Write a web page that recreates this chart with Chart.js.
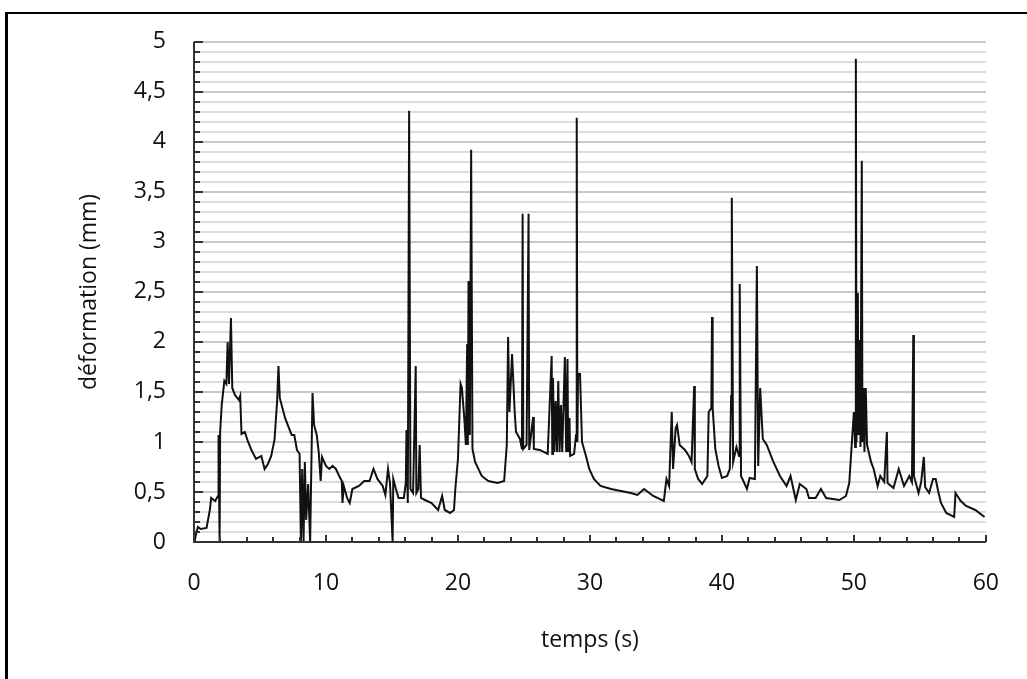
<!DOCTYPE html>
<html>
<head>
<meta charset="utf-8">
<script src="https://cdn.jsdelivr.net/npm/chart.js@4.4.1/dist/chart.umd.min.js"></script>
<style>
    html, body { margin: 0; padding: 0; background: #fff; }
    #wrap { position: relative; width: 1027px; height: 679px; }
    #cadre {
        position: absolute; left: 5px; top: 12px; right: 0; bottom: 0;
        border-top: 2px solid #000; border-left: 3px solid #000;
        pointer-events: none;
    }
</style>
</head>
<body>
<div id="wrap">
    <canvas id="graphique" width="1027" height="679"></canvas>
    <div id="cadre"></div>
</div>
<script>
// temps (s)
const temps = [
    0.0, 0.07, 0.15, 0.3, 0.5, 0.95, 1.2, 1.3, 1.6, 1.82, 1.86, 1.94, 1.98, 2.1, 2.3, 2.45, 2.55, 2.65, 2.8, 2.9,
    3.1, 3.4, 3.5, 3.6, 3.85, 4.1, 4.35, 4.7, 5.1, 5.35, 5.6, 5.85, 6.1, 6.3, 6.4, 6.5, 6.7, 6.9, 7.1, 7.4,
    7.6, 7.8, 8.0, 8.1, 8.2, 8.3, 8.4, 8.5, 8.65, 8.8, 8.98, 9.1, 9.3, 9.45, 9.6, 9.7, 10.0, 10.25, 10.5, 10.75,
    11.0, 11.2, 11.25, 11.35, 11.6, 11.8, 12.0, 12.5, 12.9, 13.3, 13.6, 13.9, 14.3, 14.5, 14.7, 14.85, 15.05, 15.1, 15.3, 15.5,
    15.9, 16.05, 16.1, 16.2, 16.3, 16.4, 16.6, 16.8, 16.85, 17.0, 17.1, 17.2, 17.5, 18.0, 18.5, 18.8, 19.0, 19.4, 19.7, 19.8,
    20.0, 20.2, 20.3, 20.5, 20.6, 20.7, 20.75, 20.8, 20.9, 21.0, 21.1, 21.3, 21.8, 22.3, 23.0, 23.5, 23.7, 23.8, 23.9, 24.1,
    24.3, 24.4, 24.7, 24.85, 24.9, 24.95, 25.2, 25.35, 25.4, 25.7, 25.75, 26.2, 26.8, 27.1, 27.15, 27.2, 27.3, 27.4, 27.5, 27.6,
    27.7, 27.8, 27.9, 28.1, 28.2, 28.3, 28.35, 28.45, 28.5, 28.8, 28.95, 29.0, 29.05, 29.1, 29.25, 29.4, 29.7, 29.95, 30.3, 30.8,
    31.6, 33.1, 33.6, 34.1, 34.3, 34.8, 35.6, 35.8, 36.0, 36.2, 36.3, 36.5, 36.6, 36.8, 37.2, 37.5, 37.7, 37.9, 37.95, 38.2,
    38.5, 38.9, 39.0, 39.2, 39.25, 39.3, 39.5, 39.75, 40.0, 40.4, 40.6, 40.7, 40.75, 40.85, 41.1, 41.3, 41.35, 41.45, 41.9, 42.1,
    42.5, 42.65, 42.75, 42.9, 43.1, 43.4, 43.9, 44.4, 44.9, 45.2, 45.6, 45.9, 46.4, 46.6, 47.1, 47.5, 47.9, 48.9, 49.4, 49.65,
    49.8, 50.0, 50.1, 50.15, 50.2, 50.3, 50.35, 50.45, 50.5, 50.6, 50.65, 50.75, 50.8, 50.9, 51.0, 51.3, 51.5, 51.8, 52.0, 52.3,
    52.5, 52.55, 53.0, 53.4, 53.8, 54.2, 54.4, 54.5, 54.55, 54.9, 55.1, 55.3, 55.4, 55.7, 56.0, 56.2, 56.4, 56.6, 57.0, 57.6,
    57.7, 58.1, 58.5, 59.2, 59.9
];

// déformation (mm)
const deformation = [
    0.0, 0.02, 0.08, 0.15, 0.13, 0.14, 0.32, 0.44, 0.41, 0.46, 1.07, 0.0, 1.1, 1.37, 1.61, 1.58, 2.0, 1.58, 2.24, 1.54,
    1.47, 1.42, 1.46, 1.08, 1.1, 1.0, 0.92, 0.83, 0.86, 0.73, 0.78, 0.86, 1.02, 1.41, 1.76, 1.44, 1.34, 1.24, 1.17, 1.07,
    1.07, 0.92, 0.88, 0.0, 0.73, 0.0, 0.8, 0.22, 0.58, 0.0, 1.49, 1.17, 1.07, 0.9, 0.61, 0.85, 0.76, 0.73, 0.76, 0.73,
    0.66, 0.61, 0.39, 0.56, 0.44, 0.39, 0.53, 0.56, 0.61, 0.61, 0.73, 0.63, 0.56, 0.47, 0.73, 0.59, 0.0, 0.63, 0.53, 0.44,
    0.44, 0.59, 1.12, 0.39, 4.31, 0.53, 0.49, 1.76, 0.49, 0.53, 0.97, 0.44, 0.42, 0.39, 0.32, 0.46, 0.32, 0.29, 0.32, 0.53,
    0.83, 1.58, 1.54, 1.2, 0.97, 1.98, 0.97, 2.61, 1.07, 3.92, 0.93, 0.8, 0.66, 0.61, 0.59, 0.61, 0.97, 2.05, 1.3, 1.88,
    1.3, 1.1, 1.03, 0.93, 3.28, 0.93, 0.97, 3.28, 0.92, 1.25, 0.93, 0.92, 0.88, 1.86, 0.88, 1.64, 0.9, 1.41, 0.9, 1.61,
    0.9, 1.37, 0.9, 1.85, 0.9, 1.83, 0.9, 1.24, 0.86, 0.88, 1.07, 4.24, 1.0, 1.68, 1.68, 1.0, 0.86, 0.73, 0.63, 0.56,
    0.53, 0.49, 0.47, 0.53, 0.51, 0.46, 0.41, 0.63, 0.56, 1.3, 0.73, 1.14, 1.17, 0.97, 0.92, 0.86, 0.8, 1.56, 0.73, 0.63,
    0.58, 0.66, 1.3, 1.34, 2.25, 1.34, 0.93, 0.76, 0.64, 0.66, 0.73, 1.46, 3.44, 0.8, 0.95, 0.86, 2.58, 0.66, 0.53, 0.64,
    0.63, 2.76, 0.76, 1.54, 1.03, 0.97, 0.8, 0.66, 0.56, 0.66, 0.42, 0.58, 0.53, 0.44, 0.44, 0.53, 0.44, 0.42, 0.46, 0.59,
    0.9, 1.3, 0.95, 4.83, 1.0, 2.49, 1.07, 2.02, 0.95, 3.81, 1.0, 1.54, 0.9, 1.54, 0.97, 0.8, 0.73, 0.56, 0.66, 0.6,
    1.1, 0.59, 0.54, 0.73, 0.56, 0.66, 0.6, 2.07, 0.66, 0.49, 0.6, 0.85, 0.55, 0.49, 0.63, 0.63, 0.5, 0.39, 0.29, 0.25,
    0.49, 0.41, 0.36, 0.32, 0.25
];

const xMin = 0, xMax = 60, xPas = 10, xPasMineur = 2;
const yMin = 0, yMax = 5, yPas = 0.1, yPasMajeur = 0.5;

const police = { family: '"Open Sans", "DejaVu Sans", sans-serif', size: 23 };

function estMajeur(v) {
    const r = v / yPasMajeur;
    return Math.abs(r - Math.round(r)) < 1e-6;
}

// axes et graduations dessinés vers l'intérieur, comme dans Excel
const axesInterieurs = {
    id: 'axesInterieurs',
    afterDatasetsDraw(chart) {
        const { ctx, chartArea, scales: { x, y } } = chart;
        ctx.save();
        ctx.strokeStyle = '#333';
        ctx.lineWidth = 2;
        ctx.beginPath();
        ctx.moveTo(chartArea.left, chartArea.top);
        ctx.lineTo(chartArea.left, chartArea.bottom);
        ctx.lineTo(chartArea.right, chartArea.bottom);
        ctx.stroke();

        ctx.beginPath();
        y.ticks.forEach(t => {
            const py = Math.round(y.getPixelForValue(t.value));
            const long = estMajeur(t.value) ? 9 : 6;
            ctx.moveTo(chartArea.left, py);
            ctx.lineTo(chartArea.left + long, py);
        });
        for (let v = xMin; v <= xMax; v += xPasMineur) {
            const px = Math.round(x.getPixelForValue(v));
            const long = v % xPas === 0 ? 7 : 5;
            ctx.moveTo(px, chartArea.bottom);
            ctx.lineTo(px, chartArea.bottom - long);
        }
        ctx.stroke();
        ctx.restore();
    }
};

new Chart(document.getElementById('graphique'), {
    type: 'line',
    data: {
        datasets: [{
            data: temps.map((t, i) => ({ x: t, y: deformation[i] })),
            borderColor: '#111',
            borderWidth: 2,
            pointRadius: 0,
            tension: 0
        }]
    },
    options: {
        responsive: false,
        animation: false,
        layout: { padding: { left: 0, right: 30, top: 32, bottom: 0 } },
        plugins: {
            legend: { display: false },
            tooltip: { enabled: false }
        },
        scales: {
            x: {
                type: 'linear',
                min: xMin,
                max: xMax,
                grid: { display: false, drawTicks: false },
                border: { display: false },
                ticks: { stepSize: xPas, padding: 28, color: '#111', font: police },
                title: {
                    display: true,
                    text: 'temps (s)',
                    color: '#111',
                    font: police,
                    padding: { top: 0, bottom: 25 }
                },
                afterFit(scale) { scale.height = 679 - 542; }
            },
            y: {
                min: yMin,
                max: yMax,
                grid: {
                    drawTicks: false,
                    lineWidth: 2,
                    color: c => estMajeur(c.tick.value) ? '#c8c8c8' : '#dcdcdc'
                },
                border: { display: false },
                ticks: {
                    stepSize: yPas,
                    autoSkip: false,
                    padding: 28,
                    color: '#111',
                    font: police,
                    callback: v => estMajeur(v) ? String(Math.round(v * 10) / 10).replace('.', ',') : ''
                },
                title: {
                    display: true,
                    text: 'déformation (mm)',
                    color: '#111',
                    font: police,
                    padding: { top: 76, bottom: 0 }
                },
                afterFit(scale) { scale.width = 194; }
            }
        }
    },
    plugins: [axesInterieurs]
});
</script>
</body>
</html>
